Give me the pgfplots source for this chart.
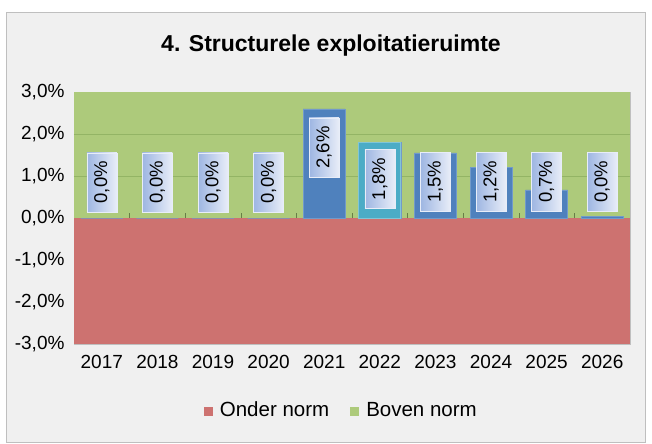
\documentclass[border=0pt]{standalone}
\usepackage{pgfplots}
\pgfplotsset{compat=1.18}
\usepackage{fontspec}
\setmainfont{Liberation Sans}
\definecolor{bgframe}{HTML}{F0F0F0}
\definecolor{frameline}{HTML}{BFBFBF}
\definecolor{boven}{HTML}{ADCA7B}
\definecolor{onder}{HTML}{CD7270}
\definecolor{gridg}{HTML}{93B465}
\definecolor{barblue}{HTML}{4F81BD}
\definecolor{barteal}{HTML}{4BACC6}
\definecolor{lblblue}{HTML}{9EB6E2}
\definecolor{lblwhite}{HTML}{E8EDF8}
\begin{document}
\begin{tikzpicture}
\useasboundingbox (-74bp,-100bp) rectangle (578bp,344bp);
\fill[bgframe] (-67bp,-98bp) rectangle (571bp,331bp);
\draw[frameline,line width=1bp] (-67bp,-98bp) rectangle (571bp,331bp);
\begin{axis}[
  scale only axis,
  width=556bp, height=252bp,
  xmin=-0.5, xmax=9.5, ymin=-3, ymax=3,
  xtick={0,...,9},
  xticklabels={2017,2018,2019,2020,2021,2022,2023,2024,2025,2026},
  ytick={-3,-2,-1,0,1,2,3},
  yticklabels={{-3,0\%},{-2,0\%},{-1,0\%},{0,0\%},{1,0\%},{2,0\%},{3,0\%}},
  major tick length=0pt,
  tick label style={font=\fontsize{19bp}{21bp}\selectfont},
  xticklabel style={yshift=-8bp},
  yticklabel style={xshift=-6bp},
  axis line style={draw=frameline, line width=0.8bp},
  legend style={at={(0.479,-0.268)}, anchor=center, draw=none, fill=none,
    legend columns=2, font=\fontsize{20.5bp}{22bp}\selectfont,
    inner sep=0pt,
    nodes={text height=14.5bp, text depth=4bp, inner xsep=0pt},
    /tikz/every even column/.append style={column sep=21bp}},
  legend cell align=left,
]
% background areas
\addplot[fill=onder, draw=none, legend image code/.code={\fill[onder] (0bp,-4.5bp) rectangle (9bp,5bp); \path (16bp,0bp);}]
  coordinates {(-0.5,-3) (9.5,-3)} \closedcycle;
\addlegendentry{Onder norm}
\addplot[fill=boven, draw=none, legend image code/.code={\fill[boven] (0bp,-4.5bp) rectangle (9bp,5bp); \path (16bp,0bp);}]
  coordinates {(-0.5,3) (9.5,3)} \closedcycle;
\addlegendentry{Boven norm}
% grid lines
\addplot[gridg, line width=0.8bp, forget plot] coordinates {(-0.5,1) (9.5,1)};
\addplot[gridg, line width=0.8bp, forget plot] coordinates {(-0.5,2) (9.5,2)};
% category ticks
\addplot[ycomb, gridg!70!black, line width=0.6bp, mark=none, forget plot]
  coordinates {(0.5,0.13) (1.5,0.13) (2.5,0.13) (3.5,0.13) (4.5,0.13) (5.5,0.13) (6.5,0.13) (7.5,0.13) (8.5,0.13)};
% bars
\addplot[ybar, bar width=0.755, bar shift=0pt, fill=barblue, draw=barblue!80!white, forget plot]
  coordinates {(0,0) (1,0) (2,0) (3,0) (4,2.6) (5,1.8) (6,1.55) (7,1.2) (8,0.67) (9,0.04)};
\addplot[ybar, bar width=0.755, bar shift=0pt, fill=barteal, draw=barteal!70!white, line width=1bp, forget plot]
  coordinates {(5,1.8)};
% labels
\addplot[only marks, mark=none, forget plot,
  nodes near coords, point meta=explicit symbolic,
  every node near coord/.append style={anchor=center, rotate=90,
    font=\fontsize{18.5bp}{20bp}\selectfont,
    shading=axis, shading angle=90, left color=lblblue, right color=lblwhite,
    draw=lblwhite, line width=0.4bp,
    minimum width=59bp, minimum height=30bp, inner sep=0pt}]
  table[meta=lab] {
x y lab
0 0.85 {0,0\%}
1 0.85 {0,0\%}
2 0.85 {0,0\%}
3 0.85 {0,0\%}
4 1.68 {2,6\%}
5 0.93 {1,8\%}
6 0.86 {1,5\%}
7 0.86 {1,2\%}
8 0.86 {0,7\%}
9 0.86 {0,0\%}
};
\end{axis}
\node[anchor=base, font=\bfseries\fontsize{23bp}{25bp}\selectfont] at (257bp,292bp) {4. Structurele exploitatieruimte};
\end{tikzpicture}
\end{document}
